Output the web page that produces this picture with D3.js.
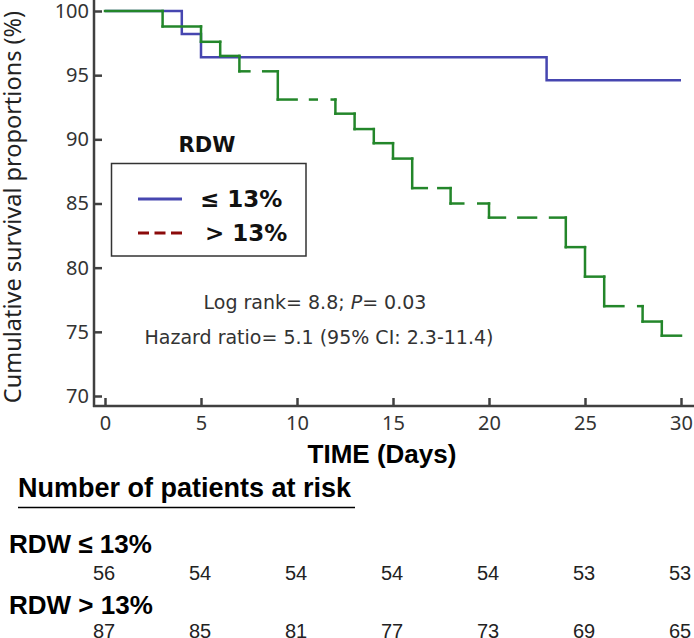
<!DOCTYPE html>
<html>
<head>
<meta charset="utf-8">
<script src="https://cdn.jsdelivr.net/npm/d3@7"></script>
<style>
  html, body { margin: 0; padding: 0; background: #fff; }
  svg { display: block; }
</style>
</head>
<body>
<svg id="chart" width="694" height="638"></svg>
<script>
// ---- data ----
const blueTimes = [0, 4, 5, 23];
const blueSurv  = [100, 98.2, 96.4, 94.6];
const greenTimes = [0, 3, 5, 6, 7, 9, 12, 13, 14, 15, 16, 18, 20, 24, 25, 26, 28, 29];
const greenSurv  = [100, 98.8, 97.6, 96.5, 95.3, 93.1, 92.0, 90.8, 89.7, 88.5, 86.2, 85.0, 83.9, 81.6, 79.3, 77.0, 75.8, 74.7];
const endDay = 30;
// gaps (in days) visible in the green curve
const greenGapStart = [7.52, 9.98, 11.03, 16.76, 18.66, 20.83, 22.45, 27.0];
const greenGapEnd   = [8.24, 10.68, 11.81, 17.36, 19.44, 21.53, 23.18, 27.77];
const xTicks = [0, 5, 10, 15, 20, 25, 30];
const yTicks = [70, 75, 80, 85, 90, 95, 100];
const riskDays = [0, 5, 10, 15, 20, 25, 30];
const riskLow  = [56, 54, 54, 54, 54, 53, 53];
const riskHigh = [87, 85, 81, 77, 73, 69, 65];

const svg = d3.select("#chart");
const x = d3.scaleLinear().domain([0, 30]).range([105, 681]);
const y = d3.scaleLinear().domain([70, 100]).range([396, 11]);
const axisColor = "#404040";
const segoe = "'Noto Sans', 'Open Sans', sans-serif";
const wide = "'DejaVu Sans', Verdana, sans-serif";
const narrow = "'Liberation Sans Narrow', 'Arial Narrow', 'Liberation Sans', sans-serif";

// ---- axes ----
const axY = svg.append("g").attr("transform", "translate(94,0)")
  .call(d3.axisRight(y).tickValues(yTicks).tickSize(8).tickSizeOuter(0).tickFormat(d3.format("d")));
axY.select(".domain").remove();
axY.selectAll(".tick line").attr("stroke", axisColor).attr("stroke-width", 2.5);
axY.selectAll(".tick text").attr("x", -5).attr("text-anchor", "end")
  .attr("font-family", segoe).attr("font-size", 20).attr("fill", "#333");

const axX = svg.append("g").attr("transform", "translate(0,406)")
  .call(d3.axisTop(x).tickValues(xTicks).tickSize(8).tickSizeOuter(0).tickFormat(d3.format("d")));
axX.select(".domain").remove();
axX.selectAll(".tick line").attr("stroke", axisColor).attr("stroke-width", 2.5);
axX.selectAll(".tick text").attr("y", 24).attr("dy", 0)
  .attr("font-family", segoe).attr("font-size", 20).attr("fill", "#333");

svg.append("line").attr("x1", 94).attr("x2", 94).attr("y1", 0).attr("y2", 407)
  .attr("stroke", axisColor).attr("stroke-width", 2.5);
svg.append("line").attr("x1", 93).attr("x2", 694).attr("y1", 406).attr("y2", 406)
  .attr("stroke", axisColor).attr("stroke-width", 2.5);

// ---- curves ----
const stepLine = d3.line().x(d => x(d[0])).y(d => y(d[1])).curve(d3.curveStepAfter);
const bluePts = blueTimes.map((t, i) => [t, blueSurv[i]]).concat([[endDay, blueSurv[blueSurv.length - 1]]]);
svg.append("path").attr("d", stepLine(bluePts)).attr("fill", "none")
  .attr("stroke", "#4646b0").attr("stroke-width", 2.5);

// green: build segments then cut gaps in horizontal pieces
const gSegs = [];
for (let i = 0; i < greenTimes.length; i++) {
  const t0 = greenTimes[i];
  const t1 = i + 1 < greenTimes.length ? greenTimes[i + 1] : endDay;
  const s = greenSurv[i];
  let pieces = [[t0, t1]];
  greenGapStart.forEach((gs, k) => {
    const ge = greenGapEnd[k];
    pieces = pieces.flatMap(([a, b]) => {
      if (ge <= a || gs >= b) return [[a, b]];
      const out = [];
      if (gs > a) out.push([a, gs]);
      if (ge < b) out.push([ge, b]);
      return out;
    });
  });
  pieces.forEach(([a, b]) => gSegs.push([[a, s], [b, s]]));
  if (i + 1 < greenTimes.length) gSegs.push([[t1, s], [t1, greenSurv[i + 1]]]);
}
const plainLine = d3.line().x(d => x(d[0])).y(d => y(d[1]));
svg.append("g").selectAll("path").data(gSegs).join("path")
  .attr("d", d => plainLine(d)).attr("fill", "none")
  .attr("stroke", "#23862a").attr("stroke-width", 2.5).attr("stroke-linecap", "square");

// ---- legend ----
svg.append("text").attr("x", 207).attr("y", 152).attr("text-anchor", "middle")
  .attr("font-family", wide).attr("font-weight", "bold").attr("font-size", 21).attr("fill", "#111").text("RDW");
svg.append("rect").attr("x", 111.5).attr("y", 163.5).attr("width", 194.5).attr("height", 92.5)
  .attr("fill", "none").attr("stroke", "#333").attr("stroke-width", 1.5);
svg.append("line").attr("x1", 138).attr("x2", 182).attr("y1", 199).attr("y2", 199)
  .attr("stroke", "#4646b0").attr("stroke-width", 3);
svg.append("line").attr("x1", 138).attr("x2", 182).attr("y1", 233).attr("y2", 233)
  .attr("stroke", "#8b0a0a").attr("stroke-width", 3).attr("stroke-dasharray", "11,5.5");
svg.append("text").attr("x", 200).attr("y", 207)
  .attr("font-family", wide).attr("font-weight", "bold").attr("font-size", 23).attr("fill", "#111").text("≤ 13%");
svg.append("text").attr("x", 205).attr("y", 241)
  .attr("font-family", wide).attr("font-weight", "bold").attr("font-size", 23).attr("fill", "#111").text("> 13%");

// ---- annotations ----
const ann1 = svg.append("text").attr("x", 315).attr("y", 309).attr("text-anchor", "middle")
  .attr("font-family", wide).attr("font-size", 19).attr("fill", "#333");
ann1.append("tspan").text("Log rank= 8.8; ");
ann1.append("tspan").attr("font-style", "italic").text("P");
ann1.append("tspan").text("= 0.03");
svg.append("text").attr("x", 319).attr("y", 344).attr("text-anchor", "middle")
  .attr("font-family", wide).attr("font-size", 19).attr("fill", "#333")
  .text("Hazard ratio= 5.1 (95% CI: 2.3-11.4)");

// ---- axis titles ----
svg.append("text").attr("transform", "translate(21,207) rotate(-90)").attr("text-anchor", "middle")
  .attr("font-family", segoe).attr("font-size", 23.5).attr("fill", "#222")
  .text("Cumulative survival proportions (%)");
const xt = svg.append("text").attr("x", 382).attr("y", 463).attr("text-anchor", "middle")
  .attr("font-family", narrow).attr("font-weight", "bold").attr("font-size", 26).attr("fill", "#000");
xt.append("tspan").text("TIME ");
xt.append("tspan").text("(Days)");

// ---- risk table ----
svg.append("text").attr("x", 18).attr("y", 497)
  .attr("font-family", narrow).attr("font-weight", "bold").attr("font-size", 27).attr("fill", "#000")
  .text("Number of patients at risk");
svg.append("line").attr("x1", 18).attr("x2", 355).attr("y1", 507.5).attr("y2", 507.5)
  .attr("stroke", "#000").attr("stroke-width", 1.5);
svg.append("text").attr("x", 9).attr("y", 553)
  .attr("font-family", narrow).attr("font-weight", "bold").attr("font-size", 26).attr("fill", "#000")
  .text("RDW ≤ 13%");
svg.append("text").attr("x", 9).attr("y", 614)
  .attr("font-family", narrow).attr("font-weight", "bold").attr("font-size", 26).attr("fill", "#000")
  .text("RDW > 13%");
svg.append("g").selectAll("text").data(riskDays).join("text")
  .attr("x", d => x(d) - 1).attr("y", 580).attr("text-anchor", "middle")
  .attr("font-family", narrow).attr("font-size", 20).attr("fill", "#222")
  .text((d, i) => riskLow[i]);
svg.append("g").selectAll("text").data(riskDays).join("text")
  .attr("x", d => x(d) - 1).attr("y", 638).attr("text-anchor", "middle")
  .attr("font-family", narrow).attr("font-size", 20).attr("fill", "#222")
  .text((d, i) => riskHigh[i]);
</script>
</body>
</html>
